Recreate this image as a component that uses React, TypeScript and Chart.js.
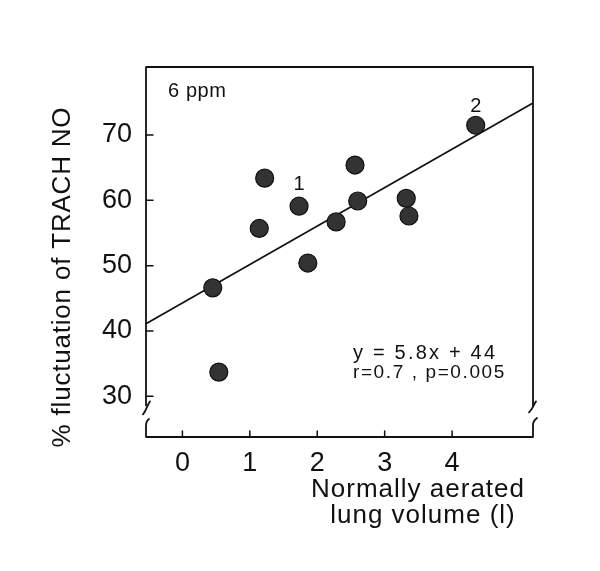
import React, { useEffect, useRef } from 'react';
import { Chart, registerables } from 'chart.js';

Chart.register(...registerables);

// Data
const volume = [0.45, 0.54, 1.14, 1.22, 1.73, 1.86, 2.28, 2.56, 2.6, 3.32, 3.36, 4.35];
const fluctuation = [46.6, 33.7, 55.7, 63.4, 59.1, 50.4, 56.7, 65.4, 59.9, 60.3, 57.6, 71.5];
const fitX = [-0.54, 5.2];
const fitY = [41.1, 74.9];
const xTicks = [0, 1, 2, 3, 4];
const yTicks = [30, 40, 50, 60, 70];
const pointLabels = ['1', '2'];
const pointLabelX = [1.73, 4.35];
const pointLabelY = [62.5, 74.4];
const xMin = -0.54;
const xMax = 5.2;
const yMin = 23.76;
const yMax = 80.42;
const yBreak = 28.6;
const panelLabel = '6 ppm';
const equationLines = ['y = 5.8x + 44', 'r=0.7 , p=0.005'];
const yTitle = '% fluctuation of TRACH NO';
const xTitleLines = ['Normally aerated', 'lung volume (l)'];

const FONT = '"Liberation Sans", Arial, Helvetica, sans-serif';
const INK = '#111';

const framePlugin = {
  id: 'frame',
  afterDraw(chart: any) {
    const { ctx, chartArea, scales } = chart;
    const { left, right, top, bottom } = chartArea;
    const xs = scales.x;
    const ys = scales.y;
    const yb = ys.getPixelForValue(yBreak);
    ctx.save();
    ctx.strokeStyle = INK;
    ctx.lineWidth = 1.8;
    ctx.lineCap = 'round';
    ctx.lineJoin = 'round';
    // box top + spines
    ctx.beginPath();
    ctx.moveTo(left, yb);
    ctx.lineTo(left, top);
    ctx.lineTo(right, top);
    ctx.lineTo(right, yb);
    ctx.stroke();
    // break marks on spines
    ctx.beginPath();
    ctx.moveTo(left + 4, yb - 4);
    ctx.bezierCurveTo(left + 1, yb, left + 1, yb + 4, left - 3, yb + 9);
    ctx.moveTo(right + 3, yb - 4);
    ctx.bezierCurveTo(right, yb, right, yb + 3, right - 4, yb + 7);
    ctx.stroke();
    // detached bottom axis
    ctx.beginPath();
    ctx.moveTo(left + 3, bottom - 18);
    ctx.quadraticCurveTo(left, bottom - 16, left, bottom - 11);
    ctx.lineTo(left, bottom);
    ctx.lineTo(right, bottom);
    ctx.lineTo(right, bottom - 12);
    ctx.quadraticCurveTo(right, bottom - 16, right + 4, bottom - 19);
    ctx.stroke();
    // ticks
    ctx.lineWidth = 1.5;
    ctx.beginPath();
    yTicks.forEach((v) => {
      const py = ys.getPixelForValue(v);
      ctx.moveTo(left, py);
      ctx.lineTo(left + 7, py);
    });
    xTicks.forEach((v) => {
      const px = xs.getPixelForValue(v);
      ctx.moveTo(px, bottom);
      ctx.lineTo(px, bottom - 6);
    });
    ctx.stroke();

    ctx.fillStyle = INK;
    // point labels
    ctx.font = `20px ${FONT}`;
    ctx.textAlign = 'center';
    ctx.textBaseline = 'middle';
    pointLabels.forEach((t, i) => {
      ctx.fillText(t, xs.getPixelForValue(pointLabelX[i]), ys.getPixelForValue(pointLabelY[i]));
    });
    // panel label
    ctx.textAlign = 'left';
    ctx.font = `20px ${FONT}`;
    (ctx as any).letterSpacing = '0.6px';
    ctx.fillText(panelLabel, left + 22, top + 24);
    // equation
    ctx.font = `20px ${FONT}`;
    (ctx as any).letterSpacing = '2.2px';
    ctx.fillText(equationLines[0], 353, 353);
    ctx.font = `19px ${FONT}`;
    (ctx as any).letterSpacing = '1.6px';
    ctx.fillText(equationLines[1], 353, 373);
    // axis titles
    ctx.font = `26px ${FONT}`;
    (ctx as any).letterSpacing = '0.8px';
    ctx.textAlign = 'center';
    ctx.save();
    ctx.translate(63, 277);
    ctx.rotate(-Math.PI / 2);
    ctx.fillText(yTitle, 0, 0);
    ctx.restore();
    (ctx as any).letterSpacing = '1px';
    ctx.fillText(xTitleLines[0], 418, 490);
    ctx.fillText(xTitleLines[1], 423, 516);
    (ctx as any).letterSpacing = '0px';
    ctx.restore();
  },
};

export default function App() {
  const ref = useRef<HTMLCanvasElement | null>(null);
  useEffect(() => {
    if (!ref.current) return;
    const chart = new Chart(ref.current, {
      type: 'scatter',
      data: {
        datasets: [
          {
            label: 'points',
            data: volume.map((v, i) => ({ x: v, y: fluctuation[i] })),
            pointRadius: 9,
            pointHoverRadius: 9,
            backgroundColor: '#333',
            borderColor: '#111',
            borderWidth: 1.2,
            order: 0,
          },
          {
            label: 'fit',
            type: 'line',
            data: fitX.map((v, i) => ({ x: v, y: fitY[i] })),
            showLine: true,
            pointRadius: 0,
            borderColor: INK,
            borderWidth: 1.7,
            fill: false,
            order: 1,
          } as any,
        ],
      },
      options: {
        responsive: false,
        animation: false,
        devicePixelRatio: 1,
        layout: { padding: { left: 0, top: 67, right: 67, bottom: 0 } },
        plugins: { legend: { display: false }, tooltip: { enabled: false } },
        scales: {
          x: {
            type: 'linear',
            min: xMin,
            max: xMax,
            grid: { display: false, drawTicks: false },
            border: { display: false },
            afterBuildTicks: (s: any) => {
              s.ticks = xTicks.map((v) => ({ value: v }));
            },
            afterFit: (s: any) => {
              s.height = 134;
            },
            ticks: {
              padding: 10,
              color: INK,
              font: { family: FONT, size: 27 },
              callback: (v: any) => String(v),
            },
          },
          y: {
            type: 'linear',
            min: yMin,
            max: yMax,
            grid: { display: false, drawTicks: false },
            border: { display: false },
            afterBuildTicks: (s: any) => {
              s.ticks = yTicks.map((v) => ({ value: v }));
            },
            afterFit: (s: any) => {
              s.width = 146;
            },
            ticks: {
              padding: 14,
              color: INK,
              font: { family: FONT, size: 27 },
              callback: (v: any) => String(v),
            },
          },
        },
      },
      plugins: [framePlugin],
    });
    return () => chart.destroy();
  }, []);
  return (
    <div style={{ position: 'absolute', left: 0, top: 0, width: 600, height: 571, background: '#fff' }}>
      <canvas ref={ref} width={600} height={571} style={{ display: 'block' }} />
    </div>
  );
}
